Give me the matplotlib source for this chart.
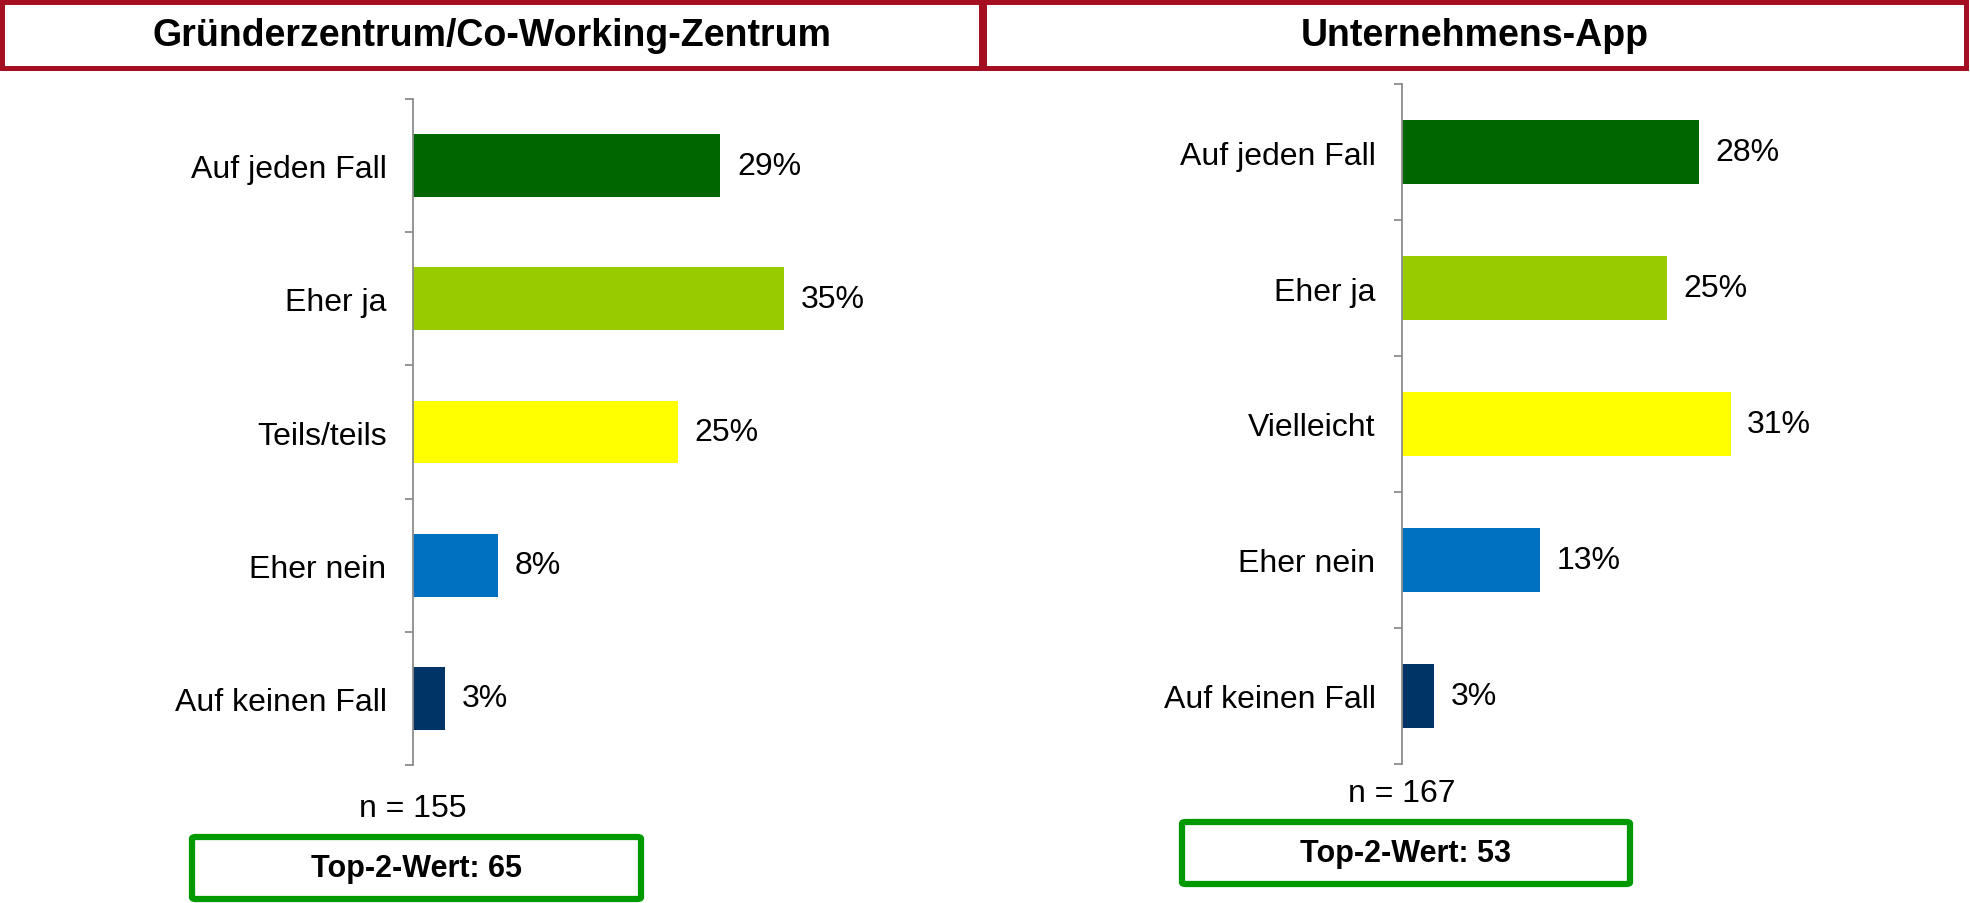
import matplotlib
matplotlib.use("Agg")
import matplotlib.pyplot as plt
from matplotlib.patches import Rectangle, FancyBboxPatch

plt.rcParams['font.family'] = ['Liberation Sans', 'DejaVu Sans']

# ---- data ----
titles = ["Gründerzentrum/Co-Working-Zentrum", "Unternehmens-App"]
cats_left = ["Auf jeden Fall", "Eher ja", "Teils/teils", "Eher nein", "Auf keinen Fall"]
vals_left = [29, 35, 25, 8, 3]
cats_right = ["Auf jeden Fall", "Eher ja", "Vielleicht", "Eher nein", "Auf keinen Fall"]
vals_right = [28, 25, 31, 13, 3]
n_values = [155, 167]
top2_values = [65, 53]
colors = ["#006600", "#99CC00", "#FFFF00", "#0070C0", "#003366"]

W, H = 1970, 904
fig = plt.figure(figsize=(W / 100, H / 100), dpi=100)

def fx(px):
    return px / W

def fy(py):
    return 1 - py / H

red = "#A50F22"
green = "#009900"

# header boxes
for (x0, x1, title) in [(2, 981, titles[0]), (984, 1966, titles[1])]:
    fig.patches.append(Rectangle((fx(x0), fy(69)), fx(x1) - fx(x0), fy(3) - fy(69),
                                 transform=fig.transFigure, fill=False,
                                 edgecolor=red, linewidth=3.6))
    fig.text(fx((x0 + x1) / 2), fy(36), title, ha='center', va='center',
             fontsize=27, fontweight='bold', color='black')

panels = [
    dict(cats=cats_left, vals=vals_left, left=413, top=100, bottom=766,
         n=n_values[0], ncenter=(413, 809), box=(192, 838, 641, 900), t2=top2_values[0]),
    dict(cats=cats_right, vals=vals_right, left=1402, top=85, bottom=765,
         n=n_values[1], ncenter=(1402, 794), box=(1182, 823, 1630, 885), t2=top2_values[1]),
]

axw = 530
for p in panels:
    ax = fig.add_axes([fx(p['left']), fy(p['bottom']), axw / W, (p['bottom'] - p['top']) / H])
    ypos = list(range(len(p['cats'])))
    ax.barh(ypos, p['vals'], height=0.47, color=colors, edgecolor='none')
    ax.set_xlim(0, 50)
    ax.set_ylim(len(p['cats']) - 0.5, -0.5)
    for s in ['top', 'right', 'bottom']:
        ax.spines[s].set_visible(False)
    ax.spines['left'].set_color('#8C8C8C')
    ax.spines['left'].set_linewidth(1.3)
    ax.set_xticks([])
    ax.set_yticks(ypos)
    ax.set_yticklabels(p['cats'], fontsize=23)
    ax.tick_params(axis='y', which='major', length=0, pad=19)
    ax.set_yticks([i - 0.5 for i in range(len(p['cats']) + 1)], minor=True)
    ax.tick_params(axis='y', which='minor', length=6, width=1.3, color='#8C8C8C')
    for y, v in zip(ypos, p['vals']):
        ax.annotate(f"{v}%", xy=(v, y), xytext=(12, 0), textcoords='offset points',
                    ha='left', va='center', fontsize=23)
    ax.patch.set_alpha(0)
    # n label
    fig.text(fx(p['ncenter'][0]), fy(p['ncenter'][1]), f"n = {p['n']}",
             ha='center', va='center', fontsize=23)
    # top-2 box
    x0, y0, x1, y1 = p['box']
    fig.patches.append(FancyBboxPatch((fx(x0), fy(y1)), fx(x1) - fx(x0), fy(y0) - fy(y1),
                                      boxstyle="round,pad=0,rounding_size=0.002",
                                      transform=fig.transFigure, fill=False,
                                      edgecolor=green, linewidth=4.5))
    fig.text(fx((x0 + x1) / 2), fy((y0 + y1) / 2), f"Top-2-Wert: {p['t2']}",
             ha='center', va='center', fontsize=22, fontweight='bold')

fig.savefig("out.png", dpi=100, facecolor='white')
